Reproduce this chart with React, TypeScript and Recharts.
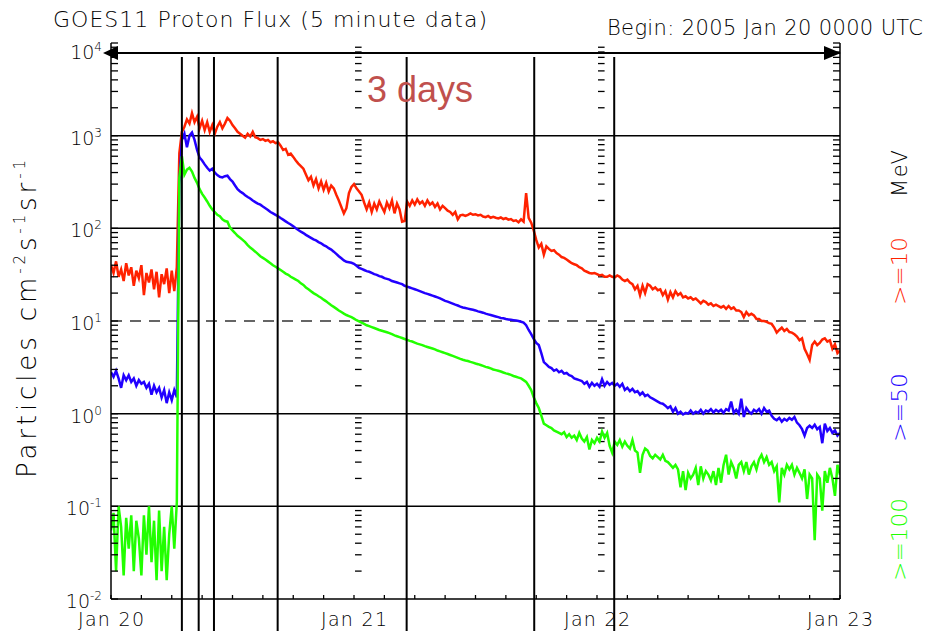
import React from 'react';
import { LineChart, Line, XAxis, YAxis, ReferenceLine } from 'recharts';

// ---------------- data ----------------
const STEP_HOURS = 0.25; // values are read every 15 minutes from 2005 Jan 20 00:00 UTC
const DAY_TICKS = [0, 24, 48, 72];
const DAY_LABELS = ['Jan 20', 'Jan 21', 'Jan 22', 'Jan 23'];
const HOUR_TICKS = [0, 3, 6, 9, 12, 15, 18, 21, 24, 27, 30, 33, 36, 39, 42, 45, 48, 51, 54, 57, 60, 63, 66, 69, 72];
const DECADE_EXPONENTS = [-2, -1, 0, 1, 2, 3, 4];
const MINOR_MULTIPLIERS = [1, 2, 3, 4, 5, 6, 7, 8, 9];
const SOLID_GRID_LEVELS = [1000, 100, 1, 0.1];
const DASHED_GRID_LEVELS = [10];
const EVENT_TIMES = [7.0, 8.66, 10.17, 16.46, 29.2, 41.8, 49.7];
const ARROW_LEVEL = 7800;
const ARROW_LABEL = '3 days';

// >=10 MeV
const ge10 = [
  40, 33, 44, 30, 36, 27, 42, 31,
  38, 24, 35, 29, 40, 19, 33, 26,
  36, 22, 34, 18, 32, 25, 37, 20,
  35, 21, 38, 650, 1100, 1250, 1500, 1350,
  1750, 1400, 1600, 1200, 1450, 1150, 1400, 1100,
  1300, 1050, 1250, 1400, 1200, 1350, 1550, 1450,
  1300, 1200, 1100, 1050, 1000, 950, 1050, 980,
  1100, 960, 940, 900, 920, 880, 900, 850,
  870, 830, 850, 780, 700, 720, 620, 640,
  590, 540, 500, 470, 440, 380, 330, 360,
  290, 340, 270, 320, 260, 310, 250, 290,
  270, 230, 200, 170, 145, 165, 240, 280,
  300, 270, 250, 230, 190, 160, 190, 150,
  185, 160, 195, 170, 150, 190, 165, 200,
  145, 185, 160, 118, 120, 195, 175, 200,
  180, 205, 185, 195, 175, 200, 180, 190,
  170, 185, 160, 175, 165, 155, 150, 140,
  150, 125, 138, 140, 136, 140, 145, 140,
  142, 138, 140, 134, 132, 136, 130, 133,
  130, 128, 131, 126, 129, 124, 126, 120,
  122, 116, 125, 118, 240, 130, 115, 95,
  75, 62, 68, 52, 64, 60, 57, 58,
  54, 52, 49, 48, 46, 44, 42, 41,
  40, 38, 37, 35, 34, 33, 32.5, 33,
  32, 31, 31.5, 30, 30, 31, 30, 29.5,
  31, 30, 28, 27, 28, 26, 25, 22,
  24, 19, 24, 20, 25, 24, 22, 23,
  21.5, 22, 19, 21, 17, 20.5, 18, 21,
  19, 20, 18, 18.5, 17.5, 18, 17, 17.5,
  16.5, 15.5, 16.5, 16, 15, 15.5, 14.5, 15,
  14.5, 14, 14.5, 13.5, 14.5, 13.5, 14, 13,
  13, 12.5, 11, 12.5, 11.5, 12, 11.5, 10.5,
  10.5, 10, 10, 9.8, 9.5, 9.3, 8.5, 7.5,
  8, 8.5, 7.8, 8.2, 7.6, 7.5, 7.2, 6.8,
  6.2, 6.5, 5.0, 4.4, 3.8, 5.5, 6.0, 5.5,
  5.8, 6.3, 6.5, 6.0, 6.2, 5.0, 5.6, 4.5,
  4.8,
];

// >=50 MeV
const ge50 = [
  2.8, 2.5, 2.9, 2.4, 1.9, 2.6, 2.3, 2.6,
  2.2, 2.4, 2.0, 2.3, 2.1, 2.2, 1.9, 2.1,
  1.6, 2.0, 1.7, 1.9, 1.5, 1.8, 1.3, 1.7,
  1.4, 1.8, 1.5, 300, 900, 1050, 750, 1000,
  1080, 900, 700, 580, 540, 490, 450, 420,
  440, 400, 375, 360, 355, 365, 370, 340,
  320, 290, 265, 250, 240, 228, 218, 210,
  200, 192, 185, 180, 172, 165, 158, 150,
  145, 140, 135, 129, 124, 119, 114, 110,
  105, 100, 96, 92, 89, 85, 82, 79,
  76, 74, 71, 69, 66, 64, 61, 59,
  56, 53, 50, 47.5, 45, 43.5, 43, 42.5,
  41.5, 39.5, 37.5, 36.5, 35.5, 34.5, 34, 33,
  32, 31.5, 30.5, 30, 29, 28.5, 28, 27,
  26.5, 26, 25.5, 25, 24, 23.5, 23, 22.5,
  22, 21.5, 21, 20.5, 20, 19.6, 19.2, 18.8,
  18.4, 18, 17.5, 17, 16.5, 16.2, 15.8, 15.4,
  15, 14.7, 14.3, 14, 13.8, 13.6, 13.4, 13.2,
  13, 12.7, 12.5, 12.3, 12, 11.8, 11.6, 11.4,
  11.2, 11, 10.8, 10.7, 10.5, 10.4, 10.3, 10.2,
  10.1, 10, 9.8, 9.6, 9.0, 8.0, 7.2, 6.4,
  5.8, 5.5, 4.5, 3.6, 3.4, 3.2, 3.1, 2.9,
  3.0, 2.8, 2.9, 2.7, 2.75, 2.6, 2.55, 2.4,
  2.35, 2.3, 2.25, 2.1, 2.2, 1.95, 2.15, 2.0,
  2.1, 1.95, 2.35, 2.0, 2.2, 2.05, 2.15, 2.0,
  2.1, 1.95, 2.1, 1.8, 1.9, 1.75, 1.85, 1.7,
  1.75, 1.6, 1.7, 1.55, 1.6, 1.5, 1.45, 1.4,
  1.35, 1.3, 1.28, 1.22, 1.15, 1.2, 1.05, 1.15,
  1.0, 1.05, 0.98, 1.02, 1.0, 1.08, 1.0, 1.05,
  1.02, 1.1, 1.0, 1.08, 1.05, 1.12, 1.03, 1.1,
  1.05, 1.1, 1.02, 1.12, 1.08, 1.35, 1.02, 1.1,
  1.0, 1.45, 0.92, 1.15, 1.05, 1.0, 1.1, 1.05,
  1.12, 1.0, 1.15, 1.05, 1.08, 0.95, 0.88, 0.85,
  0.9, 0.82, 0.88, 0.84, 0.9, 0.86, 0.92, 0.8,
  0.75, 0.68, 0.58, 0.7, 0.74, 0.7, 0.76, 0.68,
  0.72, 0.48, 0.78, 0.65, 0.7, 0.62, 0.66, 0.58,
  0.62,
];

// >=100 MeV
const ge100 = [
  0.055, 0.085, 0.02, 0.1, 0.06, 0.018, 0.075, 0.035,
  0.08, 0.02, 0.07, 0.045, 0.018, 0.08, 0.03, 0.1,
  0.025, 0.07, 0.016, 0.09, 0.02, 0.06, 0.016, 0.05,
  0.1, 0.035, 0.11, 350, 600, 380, 430, 450,
  410, 350, 310, 265, 235, 215, 195, 175,
  160, 150, 140, 135, 125, 120, 118, 102,
  95, 89, 83, 79, 75, 71, 66, 62,
  59, 56, 53, 50, 48, 46, 44, 42,
  40, 38.5, 37, 35.5, 34, 32.5, 31.5, 30,
  29, 28, 27, 25.5, 24.5, 23, 22, 21,
  20, 19.3, 18.5, 17.8, 17, 16.3, 15.5, 14.8,
  14.2, 13.6, 13, 12.5, 12, 11.6, 11.3, 11,
  10.6, 10.2, 9.9, 9.6, 9.3, 9.0, 8.8, 8.6,
  8.4, 8.2, 8.0, 7.85, 7.7, 7.55, 7.4, 7.2,
  7.0, 6.85, 6.7, 6.55, 6.4, 6.25, 6.1, 6.0,
  5.85, 5.7, 5.6, 5.5, 5.35, 5.25, 5.15, 5.05,
  4.95, 4.8, 4.7, 4.6, 4.5, 4.4, 4.3, 4.2,
  4.1, 4.0, 3.9, 3.82, 3.75, 3.7, 3.62, 3.55,
  3.48, 3.42, 3.35, 3.28, 3.2, 3.15, 3.08, 3.0,
  2.95, 2.9, 2.85, 2.78, 2.72, 2.68, 2.62, 2.55,
  2.5, 2.45, 2.4, 2.3, 2.2, 2.0, 1.8, 1.5,
  1.3, 1.15, 0.95, 0.78, 0.75, 0.72, 0.7, 0.66,
  0.64, 0.62, 0.6, 0.63, 0.56, 0.6, 0.55, 0.58,
  0.52, 0.62, 0.54, 0.5, 0.56, 0.41, 0.52, 0.48,
  0.55, 0.5, 0.64, 0.55, 0.62, 0.45, 0.38, 0.5,
  0.46, 0.52, 0.44, 0.5, 0.45, 0.42, 0.52, 0.4,
  0.38, 0.23, 0.36, 0.42, 0.4, 0.35, 0.33, 0.36,
  0.34, 0.32, 0.36, 0.31, 0.3, 0.28, 0.26, 0.28,
  0.25, 0.16, 0.24, 0.15, 0.23, 0.2, 0.22, 0.26,
  0.17, 0.27, 0.2, 0.24, 0.22, 0.19, 0.24, 0.17,
  0.26, 0.18, 0.28, 0.36, 0.22, 0.3, 0.26, 0.2,
  0.28, 0.3, 0.24, 0.3, 0.22, 0.27, 0.3, 0.25,
  0.32, 0.36, 0.3, 0.34, 0.28, 0.3, 0.24, 0.27,
  0.11, 0.26, 0.22, 0.28, 0.25, 0.28, 0.22, 0.26,
  0.23, 0.2, 0.25, 0.12, 0.22, 0.2, 0.043, 0.22,
  0.2, 0.09, 0.24, 0.18, 0.26, 0.2, 0.13, 0.28,
  0.22,
];

// ---------------- styling ----------------
const RED = '#ff2200';
const BLUE = '#2200ff';
const GREEN = '#22ff00';
const FONT = "'DejaVu Sans', 'Liberation Sans', sans-serif";
const FW = 200;
const LINE_W = 2.5;

const chartData = ge10.map((v, i) => ({
  t: i * STEP_HOURS,
  ge10: v,
  ge50: ge50[i],
  ge100: ge100[i],
}));

const yTicks: number[] = [];
DECADE_EXPONENTS.slice(0, -1).forEach((e) => {
  MINOR_MULTIPLIERS.forEach((m) => yTicks.push(Number((m * Math.pow(10, e)).toPrecision(6))));
});
yTicks.push(Math.pow(10, DECADE_EXPONENTS[DECADE_EXPONENTS.length - 1]));
const minorOnly = yTicks.filter((v) => Math.abs(Math.log10(v) - Math.round(Math.log10(v))) > 1e-6);

const decadeOf = (v: number) => {
  const l = Math.log10(v);
  const e = Math.round(l);
  return Math.abs(l - e) < 1e-6 ? e : null;
};

const LeftTick = (props: any) => {
  const { x, y, payload } = props;
  const e = decadeOf(payload.value);
  return (
    <g>
      <line x1={x} x2={x + 7} y1={y} y2={y} stroke="#000" strokeWidth={1.3} />
      {e !== null && (
        <text x={x - 9} y={y + (e === 4 ? 16 : 9)} textAnchor="end" fontFamily={FONT} fontWeight={FW} fontSize={19} fill="#000">
          10
          <tspan fontSize={12} dy={-8}>{e < 0 ? '-' + -e : String(e)}</tspan>
        </text>
      )}
    </g>
  );
};

const RightTick = (props: any) => {
  const { x, y } = props;
  return <line x1={x} x2={x - 7} y1={y} y2={y} stroke="#000" strokeWidth={1.3} />;
};

const BottomTick = (props: any) => {
  const { x, y, payload } = props;
  const idx = DAY_TICKS.indexOf(payload.value);
  return (
    <g>
      <line x1={x} x2={x} y1={y} y2={y - 4} stroke="#000" strokeWidth={1.3} />
      {idx >= 0 && (
        <text x={x} y={y + 27} textAnchor="middle" fontFamily={FONT} fontWeight={FW} fontSize={19} fill="#000" textLength={66} lengthAdjust="spacing">
          {DAY_LABELS[idx]}
        </text>
      )}
    </g>
  );
};

const TopTick = (props: any) => {
  const { x, y } = props;
  return <line x1={x} x2={x} y1={y} y2={y + 4} stroke="#000" strokeWidth={1.3} />;
};

const EventLineShape = (p: any) => {
  const top = Math.min(p.y1, p.y2);
  const bottom = Math.max(p.y1, p.y2);
  return <line x1={p.x1} x2={p.x2} y1={top + 14} y2={bottom + 32} stroke="#000" strokeWidth={2} />;
};

const ArrowShape = (p: any) => {
  const left = Math.min(p.x1, p.x2);
  const right = Math.max(p.x1, p.x2);
  const y = p.y1;
  return (
    <g>
      <line x1={left} x2={right} y1={y} y2={y} stroke="#000" strokeWidth={2} />
      <polygon points={`${left - 8},${y} ${left + 7},${y - 7} ${left + 7},${y + 7}`} fill="#000" />
      <polygon points={`${right + 1},${y} ${right - 16},${y - 7} ${right - 16},${y + 7}`} fill="#000" />
    </g>
  );
};

export default function App() {
  return (
    <div style={{ position: 'absolute', left: 0, top: 0, width: 935, height: 631, background: '#fff' }}>
      <LineChart width={935} height={631} data={chartData} margin={{ top: 43, right: 0, bottom: 0, left: 0 }}>
        <XAxis
          xAxisId="b"
          type="number"
          dataKey="t"
          domain={[0, 72]}
          ticks={HOUR_TICKS}
          interval={0}
          allowDataOverflow
          height={32}
          tickSize={0}
          tickMargin={0}
          tickLine={false}
          tick={<BottomTick />}
          axisLine={{ stroke: '#000', strokeWidth: 1.5 }}
        />
        <XAxis
          xAxisId="t"
          orientation="top"
          type="number"
          dataKey="t"
          domain={[0, 72]}
          ticks={HOUR_TICKS}
          interval={0}
          allowDataOverflow
          height={0}
          tickSize={0}
          tickMargin={0}
          tickLine={false}
          tick={<TopTick />}
          axisLine={{ stroke: '#000', strokeWidth: 1.5 }}
        />
        <YAxis
          yAxisId="l"
          type="number"
          scale="log"
          domain={[0.01, 10000]}
          ticks={yTicks}
          interval={0}
          allowDataOverflow
          width={111}
          tickSize={0}
          tickMargin={0}
          tickLine={false}
          tick={<LeftTick />}
          axisLine={{ stroke: '#000', strokeWidth: 1.5 }}
        />
        <YAxis
          yAxisId="r"
          orientation="right"
          type="number"
          scale="log"
          domain={[0.01, 10000]}
          ticks={yTicks}
          interval={0}
          allowDataOverflow
          width={95}
          tickSize={0}
          tickMargin={0}
          tickLine={false}
          tick={<RightTick />}
          axisLine={{ stroke: '#000', strokeWidth: 1.5 }}
        />
        {SOLID_GRID_LEVELS.map((v) => (
          <ReferenceLine key={'g' + v} xAxisId="b" yAxisId="l" y={v} stroke="#000" strokeWidth={1.5} ifOverflow="visible" />
        ))}
        {DASHED_GRID_LEVELS.map((v) => (
          <ReferenceLine key={'d' + v} xAxisId="b" yAxisId="l" y={v} stroke="#333" strokeWidth={1.5} strokeDasharray="11 8" ifOverflow="visible" />
        ))}
        {DAY_TICKS.slice(1, 3).map((d) =>
          minorOnly.map((v) => (
            <ReferenceLine
              key={'m' + d + '_' + v}
              xAxisId="b"
              yAxisId="l"
              segment={[{ x: d + 0.1, y: v }, { x: d + 0.75, y: v }]}
              stroke="#000"
              strokeWidth={1.3}
              ifOverflow="visible"
            />
          ))
        )}
        <Line xAxisId="b" yAxisId="l" type="linear" dataKey="ge10" stroke={RED} strokeWidth={LINE_W} dot={false} isAnimationActive={false} />
        <Line xAxisId="b" yAxisId="l" type="linear" dataKey="ge50" stroke={BLUE} strokeWidth={LINE_W} dot={false} isAnimationActive={false} />
        <Line xAxisId="b" yAxisId="l" type="linear" dataKey="ge100" stroke={GREEN} strokeWidth={LINE_W} dot={false} isAnimationActive={false} />
        {EVENT_TIMES.map((t) => (
          <ReferenceLine key={'e' + t} xAxisId="b" yAxisId="l" x={t} ifOverflow="visible" shape={EventLineShape} />
        ))}
        <ReferenceLine xAxisId="b" yAxisId="l" y={ARROW_LEVEL} ifOverflow="visible" shape={ArrowShape} />
      </LineChart>
      <svg width={935} height={631} style={{ position: 'absolute', left: 0, top: 0, pointerEvents: 'none' }}>
        <text x={53} y={27} fontFamily={FONT} fontWeight={FW} fontSize={22} fill="#000" textLength={434} lengthAdjust="spacing">
          GOES11 Proton Flux (5 minute data)
        </text>
        <text x={607} y={35} fontFamily={FONT} fontWeight={FW} fontSize={21} fill="#000" textLength={316} lengthAdjust="spacing">
          Begin: 2005 Jan 20 0000 UTC
        </text>
        <text x={367} y={102} fontFamily="'Liberation Sans', Arial, sans-serif" fontSize={36} fill="#c0504d">
          {ARROW_LABEL}
        </text>
        <text transform="translate(36,319) rotate(-90)" textAnchor="middle" fontFamily={FONT} fontWeight={FW} fontSize={26} fill="#000" textLength={318} lengthAdjust="spacing">
          Particles cm<tspan fontSize={15} dy={-11}>-2</tspan>
          <tspan dy={11}>s</tspan>
          <tspan fontSize={15} dy={-11}>-1</tspan>
          <tspan dy={11}>sr</tspan>
          <tspan fontSize={15} dy={-11}>-1</tspan>
        </text>
        <text transform="translate(907,173.5) rotate(-90)" textAnchor="middle" fontFamily={FONT} fontWeight={FW} fontSize={21} fill="#000" textLength={47} lengthAdjust="spacing">
          MeV
        </text>
        <text transform="translate(907,271) rotate(-90)" textAnchor="middle" fontFamily={FONT} fontWeight={FW} fontSize={21} fill={RED} textLength={68} lengthAdjust="spacingAndGlyphs">
          &gt;=10
        </text>
        <text transform="translate(907,407.5) rotate(-90)" textAnchor="middle" fontFamily={FONT} fontWeight={FW} fontSize={21} fill={BLUE} textLength={69} lengthAdjust="spacingAndGlyphs">
          &gt;=50
        </text>
        <text transform="translate(907,539.5) rotate(-90)" textAnchor="middle" fontFamily={FONT} fontWeight={FW} fontSize={21} fill={GREEN} textLength={83} lengthAdjust="spacingAndGlyphs">
          &gt;=100
        </text>
      </svg>
    </div>
  );
}
